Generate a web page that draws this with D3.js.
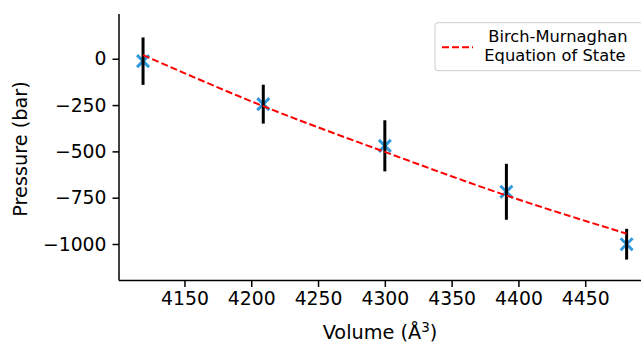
<!DOCTYPE html>
<html>
<head>
<meta charset="utf-8">
<script src="https://cdn.jsdelivr.net/npm/d3@7"></script>
<style>
  html, body { margin: 0; padding: 0; background: #fff; }
  svg { display: block; font-family: "DejaVu Sans", sans-serif; }
</style>
</head>
<body>
<svg id="chart" width="641" height="343"></svg>
<script>
// measured points (volume in A^3, pressure in bar, error bar half-height)
var volume = [4119, 4209, 4300, 4391, 4481];
var pressure = [-13, -245, -470, -718, -1001];
var pressureErr = [128, 105, 138, 151, 83];

var fitVolume = [4119, 4209, 4300, 4391, 4481];
var fitPressure = [20, -256, -503, -738, -944];

var xTicks = [4150, 4200, 4250, 4300, 4350, 4400, 4450];
var yTicks = [0, -250, -500, -750, -1000];

var svg = d3.select("#chart");
var pLeft = 119, pRight = 648, pTop = 14, pBottom = 280.5;

var x = d3.scaleLinear().domain([4101, 4497]).range([pLeft, pRight]);
var y = d3.scaleLinear().domain([-1197, 241.6]).range([pBottom, pTop]);

function fmt(d) { return d < 0 ? "\u2212" + Math.abs(d) : "" + d; }

// axes
var xAxis = svg.append("g")
    .attr("transform", "translate(0," + pBottom + ")")
    .call(d3.axisBottom(x).tickValues(xTicks).tickFormat(d3.format("d"))
        .tickSize(6.5).tickPadding(5).tickSizeOuter(0));
var yAxis = svg.append("g")
    .attr("transform", "translate(" + pLeft + ",0)")
    .call(d3.axisLeft(y).tickValues(yTicks).tickFormat(fmt)
        .tickSize(6.5).tickPadding(6).tickSizeOuter(0));

[xAxis, yAxis].forEach(function(a) {
    a.select(".domain").attr("stroke", "#000").attr("stroke-width", 1.5);
    a.selectAll(".tick line").attr("stroke", "#000").attr("stroke-width", 1.5);
    a.selectAll(".tick text").attr("fill", "#000")
        .style("font-family", "DejaVu Sans").style("font-size", "18.8px");
});
// only left and bottom spines
yAxis.select(".domain").attr("d", "M0," + pTop + "V" + pBottom);
xAxis.select(".domain").attr("d", "M" + pLeft + ",0H" + pRight);

// axis titles
svg.append("text")
    .attr("x", 380).attr("y", 339)
    .attr("text-anchor", "middle")
    .style("font-size", "19.3px")
    .html('Volume (Å<tspan dy="-7" style="font-size:13.5px">3</tspan><tspan dy="7">)</tspan>');

svg.append("text")
    .attr("transform", "translate(26.5,149) rotate(-90)")
    .attr("text-anchor", "middle")
    .style("font-size", "19.3px")
    .text("Pressure (bar)");

// data markers (x)
var pts = d3.range(volume.length);
var ms = 6;
svg.append("g").selectAll("path.mk").data(pts).join("path")
    .attr("class", "mk")
    .attr("d", function(i) {
        var cx = x(volume[i]), cy = y(pressure[i]);
        return "M" + (cx - ms) + "," + (cy - ms) + "L" + (cx + ms) + "," + (cy + ms) +
               "M" + (cx - ms) + "," + (cy + ms) + "L" + (cx + ms) + "," + (cy - ms);
    })
    .attr("stroke", "#3399dd").attr("stroke-width", 3).attr("fill", "none");

// error bars
svg.append("g").selectAll("line").data(pts).join("line")
    .attr("x1", function(i) { return x(volume[i]); })
    .attr("x2", function(i) { return x(volume[i]); })
    .attr("y1", function(i) { return y(pressure[i] + pressureErr[i]); })
    .attr("y2", function(i) { return y(pressure[i] - pressureErr[i]); })
    .attr("stroke", "#000").attr("stroke-width", 3);

// fit curve
var line = d3.line()
    .x(function(d) { return x(d[0]); })
    .y(function(d) { return y(d[1]); })
    .curve(d3.curveMonotoneX);
svg.append("path")
    .datum(d3.zip(fitVolume, fitPressure))
    .attr("d", line)
    .attr("fill", "none").attr("stroke", "#ff0000")
    .attr("stroke-width", 2).attr("stroke-dasharray", "7,3");

// legend
var lg = svg.append("g");
lg.append("rect")
    .attr("x", 435).attr("y", 22.7).attr("width", 230).attr("height", 48)
    .attr("rx", 3).attr("fill", "#fff").attr("fill-opacity", 0.8)
    .attr("stroke", "#cccccc").attr("stroke-width", 1);
lg.append("line")
    .attr("x1", 442).attr("x2", 473).attr("y1", 47.3).attr("y2", 47.3)
    .attr("stroke", "#ff0000").attr("stroke-width", 2).attr("stroke-dasharray", "7,3");
lg.append("text").attr("x", 488.3).attr("y", 42.3)
    .style("font-size", "16.3px").text("Birch-Murnaghan");
lg.append("text").attr("x", 484.3).attr("y", 60.7)
    .style("font-size", "16.3px").text("Equation of State");
</script>
</body>
</html>
